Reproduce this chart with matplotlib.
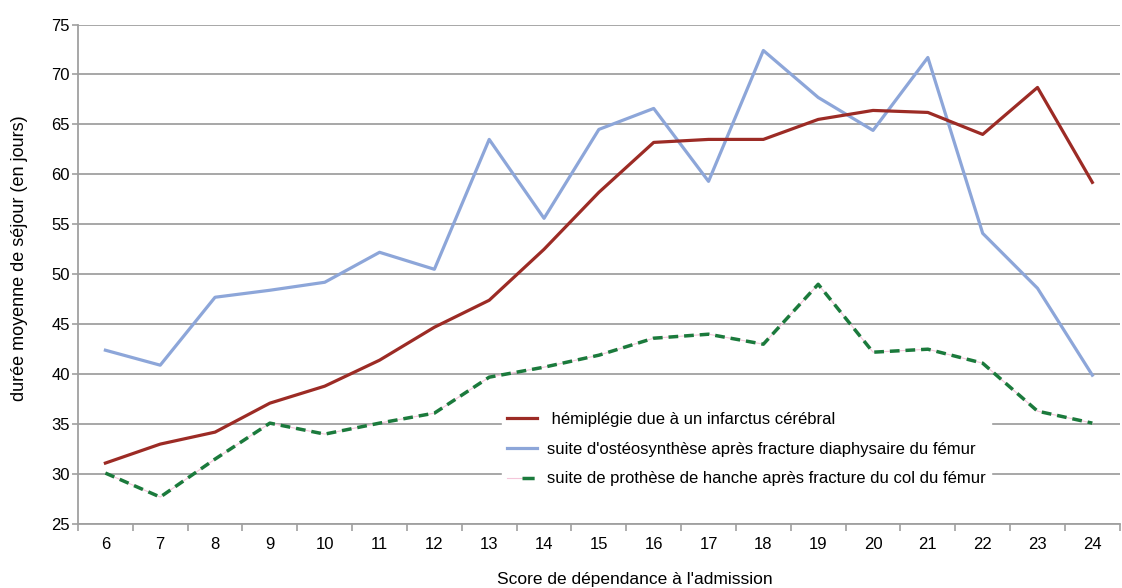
import matplotlib
matplotlib.use("Agg")
import matplotlib.pyplot as plt
from matplotlib.lines import Line2D
from matplotlib.legend_handler import HandlerTuple

plt.rcParams['font.family'] = ['Liberation Sans', 'DejaVu Sans']

scores = [6, 7, 8, 9, 10, 11, 12, 13, 14, 15, 16, 17, 18, 19, 20, 21, 22, 23, 24]
hemiplegie = [31.1, 33.0, 34.2, 37.1, 38.8, 41.4, 44.7, 47.4, 52.5, 58.2, 63.2, 63.5, 63.5,
              65.5, 66.4, 66.2, 64.0, 68.7, 59.2]
osteosynthese = [42.4, 40.9, 47.7, 48.4, 49.2, 52.2, 50.5, 63.5, 55.6, 64.5, 66.6, 59.3, 72.4,
                 67.7, 64.4, 71.7, 54.1, 48.6, 39.9]
prothese = [30.1, 27.7, 31.5, 35.1, 34.0, 35.1, 36.1, 39.7, 40.7, 41.9, 43.6, 44.0, 43.0,
            49.0, 42.2, 42.5, 41.1, 36.3, 35.1]
labels = [" hémiplégie due à un infarctus cérébral",
          "suite d'ostéosynthèse après fracture diaphysaire du fémur",
          "suite de prothèse de hanche après fracture du col du fémur"]

red = '#9C2B25'
blue = '#8DA6D9'
green = '#1B7A3C'
pink = '#F4C6DA'

fig = plt.figure(figsize=(11.22, 5.88), dpi=100)
ax = fig.add_axes([0.0695, 0.1088, 0.9285, 0.8495])

x = list(range(len(scores)))
ax.plot(x, hemiplegie, color=red, lw=2.3, zorder=4)
ax.plot(x, osteosynthese, color=blue, lw=2.3, zorder=3)
ax.plot(x, prothese, color=pink, lw=0.8, zorder=2)
ax.plot(x, prothese, color=green, lw=2.5, ls=(0, (2.8, 1.7)), zorder=2.5)

ax.set_xlim(-0.5, len(scores) - 0.5)
ax.set_ylim(25, 75)
ax.set_yticks(range(25, 80, 5))
ax.set_xticks(x)
ax.set_xticklabels([str(s) for s in scores])
ax.set_xticks([i - 0.5 for i in range(len(scores) + 1)], minor=True)
ax.tick_params(axis='x', which='major', length=0, pad=9, labelsize=12)
ax.tick_params(axis='x', which='minor', length=5, color='#A0A0A0', width=1.2)
ax.tick_params(axis='y', length=4, color='#A0A0A0', width=1.2, pad=2, labelsize=12)

ax.grid(axis='y', color='#A0A0A0', lw=1.3, zorder=0)
ax.set_axisbelow(True)
for s in ['top', 'right']:
    ax.spines[s].set_visible(False)
for s in ['left', 'bottom']:
    ax.spines[s].set_color('#A0A0A0')
    ax.spines[s].set_linewidth(1.3)

ax.set_ylabel("durée moyenne de séjour (en jours)", fontsize=13, va='center')
ax.yaxis.set_label_coords(-0.0557, 0.533)
ax.set_xlabel("Score de dépendance à l'admission", fontsize=12.5, va='center')
ax.xaxis.set_label_coords(0.5345, -0.112)

h1 = Line2D([], [], color=red, lw=2.3)
h2 = Line2D([], [], color=blue, lw=2.3)
h3a = Line2D([], [], color=pink, lw=0.8)
h3b = Line2D([], [], color=green, lw=2.5, ls=(0, (3.5, 2.0)))
leg = ax.legend([h1, h2, (h3a, h3b)], labels,
                handler_map={tuple: HandlerTuple(ndivide=None, pad=0)},
                loc='upper left', bbox_to_anchor=(0.407, 0.234), borderaxespad=0,
                frameon=True, fontsize=12, handlelength=1.8, handletextpad=0.6,
                labelspacing=0.88, borderpad=0.3, fancybox=False)
leg.get_frame().set_edgecolor('white')
leg.get_frame().set_facecolor('white')
leg.get_frame().set_alpha(1)

fig.savefig("out.png", dpi=100)
